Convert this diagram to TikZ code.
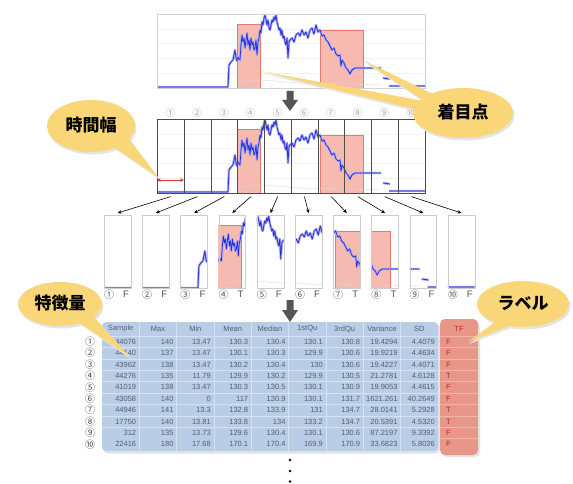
\documentclass[tikz,border=0pt]{standalone}
\usepackage{fontspec}
\setmainfont{Liberation Sans}
\newfontfamily\cjk{Noto Sans CJK JP}
\usetikzlibrary{arrows.meta}
\definecolor{callout}{RGB}{249,214,120}
\definecolor{calloutshadow}{RGB}{228,228,228}
\definecolor{redfill}{RGB}{246,186,176}
\definecolor{redline}{RGB}{230,120,108}
\definecolor{serblue}{RGB}{40,40,215}
\definecolor{serhalo}{RGB}{165,170,240}
\definecolor{tblblue}{RGB}{186,205,230}
\definecolor{tblline}{RGB}{215,226,240}
\definecolor{tbltext}{RGB}{85,95,115}
\definecolor{tfred}{RGB}{231,150,136}
\definecolor{tfline}{RGB}{240,180,170}
\definecolor{tftext}{RGB}{190,40,30}
\definecolor{bigarrow}{RGB}{85,85,85}
\def\serpath{(157,87) -- (228,87) -- (229,65) -- (231,62) -- (233,60) -- (234,55) -- (235,50) -- (236,58) -- (237,61) -- (238,57) -- (240,60) -- (241,45) -- (242,35) -- (243,42) -- (244,38) -- (245,48) -- (246,40) -- (247,33) -- (248,45) -- (249,40) -- (250,50) -- (251,38) -- (252,45) -- (253,42) -- (254,50) -- (255,48) -- (256,40) -- (257,55) -- (258,42) -- (259,38) -- (260,30) -- (261,33) -- (262,22) -- (263,25) -- (264,18) -- (265,15) -- (266,20) -- (267,25) -- (268,20) -- (269,28) -- (270,30) -- (271,25) -- (272,20) -- (273,22) -- (274,17) -- (275,20) -- (276,15) -- (277,22) -- (278,26) -- (279,30) -- (280,28) -- (281,35) -- (282,30) -- (283,38) -- (284,36) -- (285,42) -- (286,45) -- (287,38) -- (288,58) -- (289,42) -- (290,40) -- (292,38) -- (294,42) -- (296,35) -- (298,33) -- (300,36) -- (302,30) -- (304,35) -- (306,32) -- (308,38) -- (310,30) -- (312,28) -- (314,34) -- (316,25) -- (318,32) -- (320,30) -- (322,36) -- (324,35) -- (326,40) -- (328,42) -- (330,46) -- (332,50) -- (334,48) -- (336,54) -- (338,56) -- (340,55) -- (341,66) -- (342,60) -- (344,63) -- (346,68) -- (348,70) -- (350,74) -- (352,70) -- (355,68) -- (360,68) -- (370,68) -- (381,68) (383,78) -- (390,79) (389,86) -- (425,86)}
\newcommand\chartcontent{%
  \filldraw[fill=redfill,draw=redline,line width=.5] (237,24) rectangle (260,88);
  \filldraw[fill=redfill,draw=redline,line width=.5] (320,30) rectangle (363,88);
  \draw[gray!30,line width=.4] (237,82) -- (262,80) -- (300,83) -- (350,84) -- (380,85);
  \draw[serhalo,line width=2.4,line join=round] \serpath;
  \draw[serblue,line width=.7,line join=round] \serpath;
}
\begin{document}
\begin{tikzpicture}[x=1pt,y=-1pt,
  smallframe/.style={draw=gray!40,line width=.6,inner sep=0pt,minimum width=26.75pt,minimum height=73pt,anchor=north west},
  cellbox/.style={draw=gray!60!black,line width=.6,inner sep=0pt,minimum width=26.75pt,minimum height=74pt,anchor=north west},
  topnum/.style={font=\cjk\fontsize{9.5}{9.5}\selectfont,text=gray!70},
  lbl/.style={font=\fontsize{9.5}{9.5}\selectfont,text=gray!65!black},
  lblnum/.style={font=\cjk\fontsize{10}{10}\selectfont,text=gray!65!black},
  arr/.style={-{Stealth[length=4pt,width=3.5pt]},line width=.6,black},
  bigarr/.style={fill=bigarrow},
  thead/.style={font=\fontsize{7.5}{7.5}\selectfont,text=tbltext},
  tcell/.style={font=\fontsize{7.5}{7.5}\selectfont,text=tbltext,anchor=east,inner sep=0pt},
  rownum/.style={font=\cjk\fontsize{10}{10}\selectfont,text=gray!60!black},
  tfval/.style={font=\fontsize{7.5}{7.5}\selectfont,text=tftext,anchor=west,inner sep=0pt},
  callouttext/.style={font=\cjk\bfseries\fontsize{17}{17}\selectfont,text=black},
]
\useasboundingbox (0,0) rectangle (573,484);
\fill[white] (0,0) rectangle (573,484);

% ---------- top chart ----------
\foreach \gy in {28.8,43.6,58.4,73.2} \draw[gray!10,line width=.4] (157,\gy) -- (425,\gy);
\chartcontent
\node[draw=gray!35,line width=.6,inner sep=0pt,minimum width=268pt,minimum height=74pt,anchor=north west] (top) at (157,14) {};

% big arrow 1
\fill[bigarr] (286.5,91) -- (293.5,91) -- (293.5,100) -- (298,100) -- (290,111) -- (282,100) -- (286.5,100) -- cycle;

% ---------- strip ----------
\begin{scope}[shift={(0,105)}]
  \foreach \gy in {28.8,43.6,58.4,73.2} \draw[gray!10,line width=.4] (157,\gy) -- (425,\gy);
  \chartcontent
\end{scope}
\foreach \i/\c in {1/①,2/②,3/③,4/④,5/⑤,6/⑥,7/⑦,8/⑧,9/⑨,10/⑩} {
  \pgfmathsetmacro\C{157+26.75*(\i-1)}
  \node[cellbox] (cell\i) at (\C,119) {};
  \node[topnum] (tn\i) at (\C+13.375,112.5) {\c};
}
\coordinate (ra) at (157,180);
\coordinate (rb) at (183.75,180);
\draw[{Stealth[length=3.5pt,width=3.5pt]}-{Stealth[length=3.5pt,width=3.5pt]},red!80!black!80,line width=.7] (ra) -- (rb);

% ---------- small charts ----------
\foreach \i/\c/\t in {1/①/F,2/②/F,3/③/F,4/④/T,5/⑤/F,6/⑥/F,7/⑦/T,8/⑧/T,9/⑨/F,10/⑩/F} {
  \pgfmathsetmacro\L{104+38.2*(\i-1)}
  \pgfmathsetmacro\C{157+26.75*(\i-1)}
  \pgfmathsetmacro\D{\L-\C}
  \begin{scope}
    \clip (\L,215) rectangle ++(26.75,73);
    \begin{scope}[shift={(\D,201)}]
      \chartcontent
    \end{scope}
  \end{scope}
  \node[smallframe] (sc\i) at (\L,215) {};
  \node[lblnum] (sn\i) at (\L+5,294.5) {\c};
  \node[lbl] (st\i) at (\L+22,294.5) {\t};
  \draw[arr] ([yshift=-3pt]cell\i.south) -- ([yshift=2pt]sc\i.north);
}

% big arrow 2
\fill[bigarr] (286.5,300) -- (293.5,300) -- (293.5,310) -- (298,310) -- (290,322) -- (282,310) -- (286.5,310) -- cycle;

% ---------- table ----------
\fill[gray!22,rounded corners=4pt] (103.5,324) rectangle (440,453.5);
\fill[tblblue,rounded corners=4pt] (102,322) rectangle (438,451);
\foreach \k in {1,...,8} \draw[tblline,line width=.5] ({102+37.33*\k},322) -- ({102+37.33*\k},451);
\foreach \k in {0,...,8} \draw[tblline,line width=.5] (102,{336+11.4*\k}) -- (438,{336+11.4*\k});
\fill[gray!22,rounded corners=5pt] (441.5,321) rectangle (480,457);
\fill[tfred,rounded corners=5pt] (440,319) rectangle (478,455);
\foreach \k in {0,...,9} \draw[tfline,line width=.5] (440,{336+11.4*\k}) -- (478,{336+11.4*\k});
\foreach \h [count=\k] in {Sample,Max,Min,Mean,Median,1stQu,3rdQu,Variance,SD}
  \node[thead] (h\k) at ({102+37.33*(\k-0.5)},329) {\h};
\node[thead,text=tftext] (htf) at (459,329) {TF};
\foreach \r/\va/\vb/\vc/\vd/\ve/\vf/\vg/\vh/\vi/\vt [count=\n] in {
  ①/44076/140/13.47/130.3/130.4/130.1/130.8/19.4294/4.4079/F,
  ②/44140/137/13.47/130.1/130.3/129.9/130.6/19.9219/4.4634/F,
  ③/43962/138/13.47/130.2/130.4/130/130.6/19.4227/4.4071/F,
  ④/44276/135/11.79/129.9/130.2/129.9/130.5/21.2781/4.6128/T,
  ⑤/41019/138/13.47/130.3/130.5/130.1/130.9/19.9053/4.4615/F,
  ⑥/43058/140/0/117/130.9/130.1/131.7/1621.261/40.2649/F,
  ⑦/44946/141/13.3/132.8/133.9/131/134.7/28.0141/5.2928/T,
  ⑧/17750/140/13.81/133.8/134/133.2/134.7/20.5391/4.5320/T,
  ⑨/312/135/13.73/129.6/130.4/130.1/130.6/87.2197/9.3392/F,
  ⑩/22416/180/17.68/170.1/170.4/169.9/170.9/33.6823/5.8036/F} {
  \pgfmathsetmacro\yy{336+11.4*(\n-0.5)}
  \node[rownum] (rn\n) at (90,\yy) {\r};
  \foreach \v [count=\k] in {\va,\vb,\vc,\vd,\ve,\vf,\vg,\vh,\vi}
    \node[tcell] (t\n-\k) at ({102+37.33*\k-3},\yy) {\v};
  \node[tfval] (tf\n) at (446,\yy) {\vt};
}

% dots
\foreach \d/\yy in {1/460,2/471,3/481.5} \fill[black] (290,\yy) circle (1.4);

% ---------- callouts ----------
% 着目点
\fill[calloutshadow] (261,73) -- (441,106) -- (431,115) -- cycle;
\fill[calloutshadow] (364,62) -- (446,102) -- (433,108) -- cycle;
\fill[calloutshadow] (464.5,115.5) ellipse [x radius=50,y radius=25];
\fill[callout] (260,71) -- (440,104) -- (430,113) -- cycle;
\fill[callout] (363,60) -- (445,100) -- (432,106) -- cycle;
\fill[callout] (463,113) ellipse [x radius=50,y radius=25];
\node[callouttext] (kt) at (463,112) {着目点};
% 時間幅
\fill[calloutshadow] (114,148) -- (132,143) -- (159,179) -- cycle;
\fill[calloutshadow] (92.5,128.5) ellipse [x radius=44,y radius=26];
\fill[callout] (112,146) -- (130,140) -- (158,177) -- cycle;
\fill[callout] (91,126) ellipse [x radius=44,y radius=26];
\node[callouttext] (jk) at (91,125) {時間幅};
% 特徴量
\fill[calloutshadow] (80,324) -- (95,318) -- (131,359) -- cycle;
\fill[calloutshadow] (61.5,306.5) ellipse [x radius=42,y radius=22];
\fill[callout] (78,322) -- (93,316) -- (130,357) -- cycle;
\fill[callout] (60,304) ellipse [x radius=42,y radius=22];
\node[callouttext] (tc) at (60,303) {特徴量};
% ラベル
\fill[calloutshadow] (497,324) -- (511,328) -- (469,344) -- cycle;
\fill[calloutshadow] (524.5,306.5) ellipse [x radius=46,y radius=23];
\fill[callout] (495,322) -- (509,326) -- (468,342) -- cycle;
\fill[callout] (523,304) ellipse [x radius=46,y radius=23];
\node[callouttext] (lb) at (523,303) {ラベル};
\end{tikzpicture}
\end{document}
